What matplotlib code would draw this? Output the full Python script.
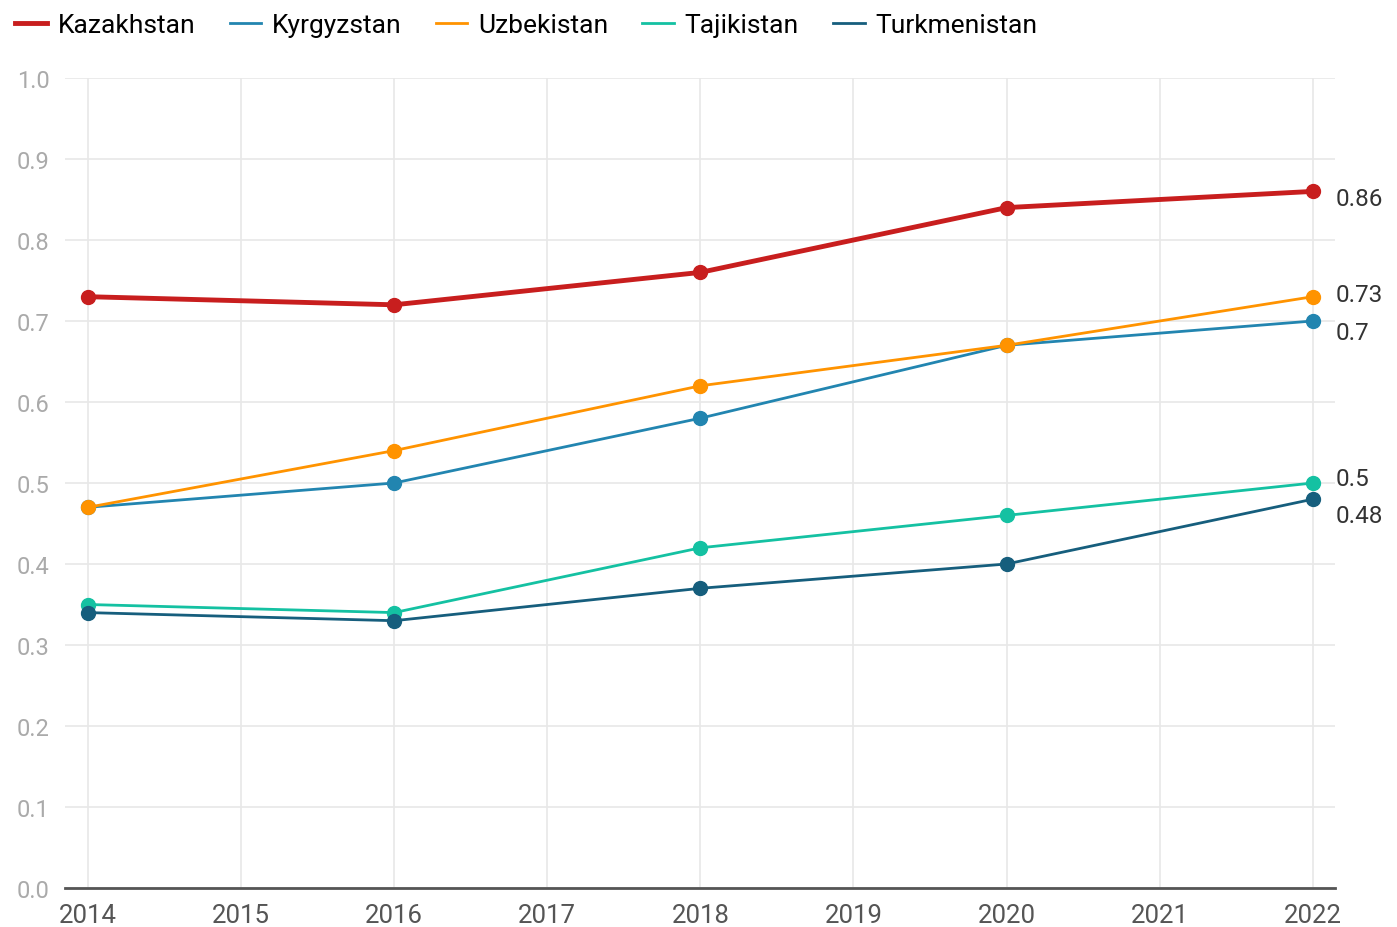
import matplotlib.pyplot as plt

plt.rcParams['font.family'] = ['Roboto', 'DejaVu Sans']

years = [2014, 2016, 2018, 2020, 2022]
kazakhstan = [0.73, 0.72, 0.76, 0.84, 0.86]
kyrgyzstan = [0.47, 0.50, 0.58, 0.67, 0.70]
uzbekistan = [0.47, 0.54, 0.62, 0.67, 0.73]
tajikistan = [0.35, 0.34, 0.42, 0.46, 0.50]
turkmenistan = [0.34, 0.33, 0.37, 0.40, 0.48]

series = [
    ('Kazakhstan', kazakhstan, '#c81e1e', 3.5),
    ('Kyrgyzstan', kyrgyzstan, '#2285b0', 2.0),
    ('Uzbekistan', uzbekistan, '#ff9300', 2.0),
    ('Tajikistan', tajikistan, '#14c1a2', 2.0),
    ('Turkmenistan', turkmenistan, '#165e7d', 2.0),
]
# vertical nudge (px) of the end labels so they don't overlap
label_shift = {'Kazakhstan': -7, 'Kyrgyzstan': -12, 'Uzbekistan': 2,
               'Tajikistan': 4, 'Turkmenistan': -16}

fig = plt.figure(figsize=(13.97, 9.28), dpi=100)
ax = fig.add_axes([65/1397, 39/928, 1270/1397, 810/928])

for name, vals, col, lw in series:
    ax.plot(years, vals, color=col, lw=lw, marker='o', ms=10, label=name,
            clip_on=False, zorder=3)
    ax.annotate(str(vals[-1]).rstrip('0'), (years[-1], vals[-1]),
                xytext=(23, label_shift[name]), textcoords='offset pixels',
                va='center', ha='left', fontsize=17.5, color='#333333')

ax.set_xlim(2013.85, 2022.145)
ax.set_ylim(0, 1)
ax.set_xticks(range(2014, 2023))
ax.set_yticks([i/10 for i in range(11)])
ax.set_yticklabels([f'{i/10:.1f}' for i in range(11)])
ax.grid(True, color='#e8e8e8', lw=1.2, zorder=0)
ax.set_axisbelow(True)
for s in ['top', 'right', 'left']:
    ax.spines[s].set_visible(False)
ax.spines['bottom'].set_color('#555555')
ax.spines['bottom'].set_linewidth(2)
ax.tick_params(axis='y', length=0, pad=11, labelsize=17, labelcolor='#aaaaaa')
ax.tick_params(axis='x', length=0, pad=11, labelsize=18.5, labelcolor='#555555')

fig.legend(loc='upper left', bbox_to_anchor=(-0.006, 1.01), ncol=5, frameon=False,
           fontsize=19, handlelength=1.2, handletextpad=0.4, columnspacing=1.3)
leg = fig.legends[0]
for h in leg.legend_handles:
    h.set_marker('')

fig.savefig('out.png', dpi=100)
